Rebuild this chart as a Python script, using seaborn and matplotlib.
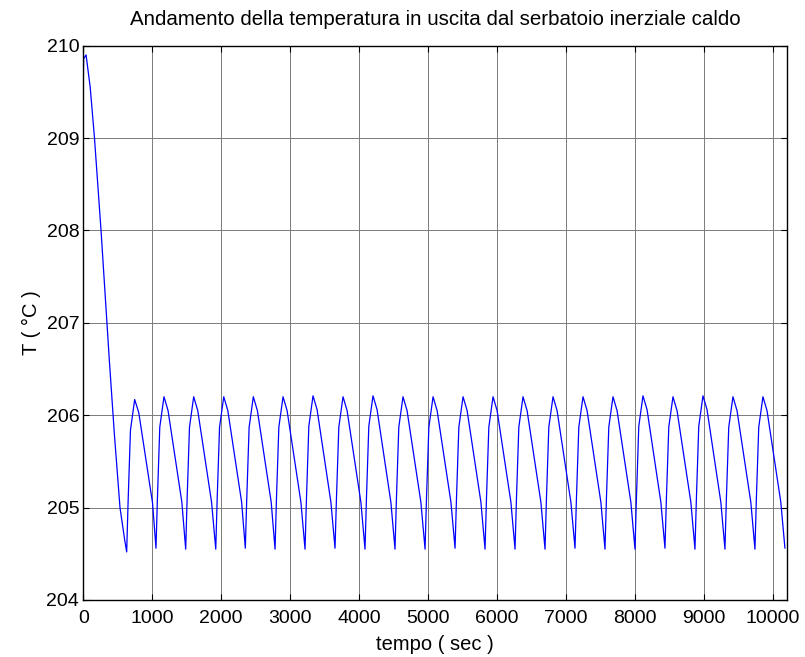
import numpy as np
import pandas as pd
import seaborn as sns
import matplotlib
matplotlib.use("Agg")
import matplotlib.pyplot as plt

# ---- Data ----
# initial transient (time s, temperature °C)
init_t = [0, 5, 40, 100, 162, 257, 377, 450, 532, 600]
init_T = [209.66, 209.86, 209.90, 209.55, 209.00, 208.00, 206.60, 205.80, 205.00, 204.65]

# cycle minima
min_t = [629, 1054, 1485, 1921, 2350, 2781, 3216, 3651, 4086, 4521, 4957, 5392,
         5827, 6262, 6697, 7132, 7567, 8002, 8437, 8872, 9307, 9742, 10177]
min_T = [204.52, 204.56, 204.55, 204.55, 204.56, 204.55, 204.55, 204.56, 204.55,
         204.55, 204.55, 204.56, 204.55, 204.55, 204.55, 204.56, 204.55, 204.55,
         204.56, 204.55, 204.55, 204.55, 204.56]

# steep rise (early point)
rise1_t = [649, 1074, 1505, 1941, 2370, 2801, 3236, 3671, 4106, 4541, 4977, 5412,
           5847, 6282, 6717, 7152, 7587, 8022, 8457, 8892, 9327, 9762]
rise1_T = [205.05, 205.08, 205.08, 205.08, 205.08, 205.08, 205.08, 205.08, 205.08,
           205.08, 205.08, 205.08, 205.08, 205.08, 205.08, 205.08, 205.08, 205.08,
           205.08, 205.08, 205.08, 205.08]

# rise knee
rise2_t = [684, 1109, 1540, 1976, 2405, 2836, 3271, 3706, 4141, 4576, 5012, 5447,
           5882, 6317, 6752, 7187, 7622, 8057, 8492, 8927, 9362, 9797]
rise2_T = [205.84, 205.87, 205.87, 205.87, 205.87, 205.87, 205.88, 205.87, 205.88,
           205.87, 205.87, 205.87, 205.87, 205.87, 205.87, 205.87, 205.87, 205.88,
           205.87, 205.88, 205.87, 205.87]

# peaks
peak_t = [745, 1170, 1601, 2037, 2466, 2897, 3332, 3767, 4202, 4637, 5073, 5508,
          5943, 6378, 6813, 7248, 7683, 8118, 8553, 8988, 9423, 9858]
peak_T = [206.17, 206.20, 206.20, 206.20, 206.20, 206.20, 206.21, 206.20, 206.21,
          206.20, 206.20, 206.20, 206.20, 206.20, 206.20, 206.20, 206.20, 206.21,
          206.20, 206.21, 206.20, 206.20]

# just after peak
shoulder_t = [804, 1229, 1660, 2096, 2525, 2956, 3391, 3826, 4261, 4696, 5132, 5567,
              6002, 6437, 6872, 7307, 7742, 8177, 8612, 9047, 9482, 9917]
shoulder_T = [206.03, 206.05, 206.05, 206.05, 206.05, 206.05, 206.06, 206.05, 206.06,
              206.05, 206.05, 206.05, 206.05, 206.05, 206.05, 206.05, 206.05, 206.06,
              206.05, 206.06, 206.05, 206.05]

# late descent
fall_t = [1004, 1429, 1860, 2296, 2725, 3156, 3591, 4026, 4461, 4896, 5332, 5767,
          6202, 6637, 7072, 7507, 7942, 8377, 8812, 9247, 9682, 10117]
fall_T = [205.05, 205.06, 205.06, 205.06, 205.06, 205.06, 205.06, 205.06, 205.06,
          205.06, 205.06, 205.06, 205.06, 205.06, 205.06, 205.06, 205.06, 205.06,
          205.06, 205.06, 205.06, 205.06]

x_ticks = [0, 1000, 2000, 3000, 4000, 5000, 6000, 7000, 8000, 9000, 10000]
y_ticks = [204, 205, 206, 207, 208, 209, 210]

title = "Andamento della temperatura in uscita dal serbatoio inerziale caldo"
xlabel = "tempo ( sec )"
ylabel = "T ( \u00b0C )"

# ---- Build table ----
df = pd.DataFrame({
    "t": init_t + min_t + rise1_t + rise2_t + peak_t + shoulder_t + fall_t,
    "T": init_T + min_T + rise1_T + rise2_T + peak_T + shoulder_T + fall_T,
}).sort_values("t").reset_index(drop=True)

# ---- Style ----
sns.set_style("white")
plt.rcParams["font.family"] = ["Liberation Sans", "DejaVu Sans"]
plt.rcParams["text.color"] = "black"
plt.rcParams["axes.labelcolor"] = "black"

fig = plt.figure(figsize=(8.05, 6.57), dpi=100)
ax = fig.add_axes([0.1035, 0.0868, 0.8738, 0.8436])

sns.lineplot(data=df, x="t", y="T", estimator=None, sort=False,
             color="#0000FF", linewidth=0.9, ax=ax)

ax.set_xlim(0, 10203)
ax.set_ylim(204, 210)
ax.set_xticks(x_ticks)
ax.set_yticks(y_ticks)
ax.set_xticklabels([str(v) for v in x_ticks], fontsize=14, color="black")
ax.set_yticklabels([str(v) for v in y_ticks], fontsize=14, color="black")
ax.grid(True, color="#7a7a7a", linewidth=0.7)
ax.set_axisbelow(True)
ax.tick_params(direction="in", length=4, width=0.8, top=True, right=True,
               bottom=True, left=True, colors="black")
ax.tick_params(axis="x", pad=7)
ax.tick_params(axis="y", pad=3)
for s in ax.spines.values():
    s.set_color("black")
    s.set_linewidth(1.0)

ax.set_title(title, fontsize=14.8, pad=15, color="black")
ax.set_xlabel(xlabel, fontsize=14.5, labelpad=6, color="black")
ax.set_ylabel(ylabel, fontsize=14.5, labelpad=4, color="black")

fig.savefig("out.png", dpi=100, facecolor="white")
